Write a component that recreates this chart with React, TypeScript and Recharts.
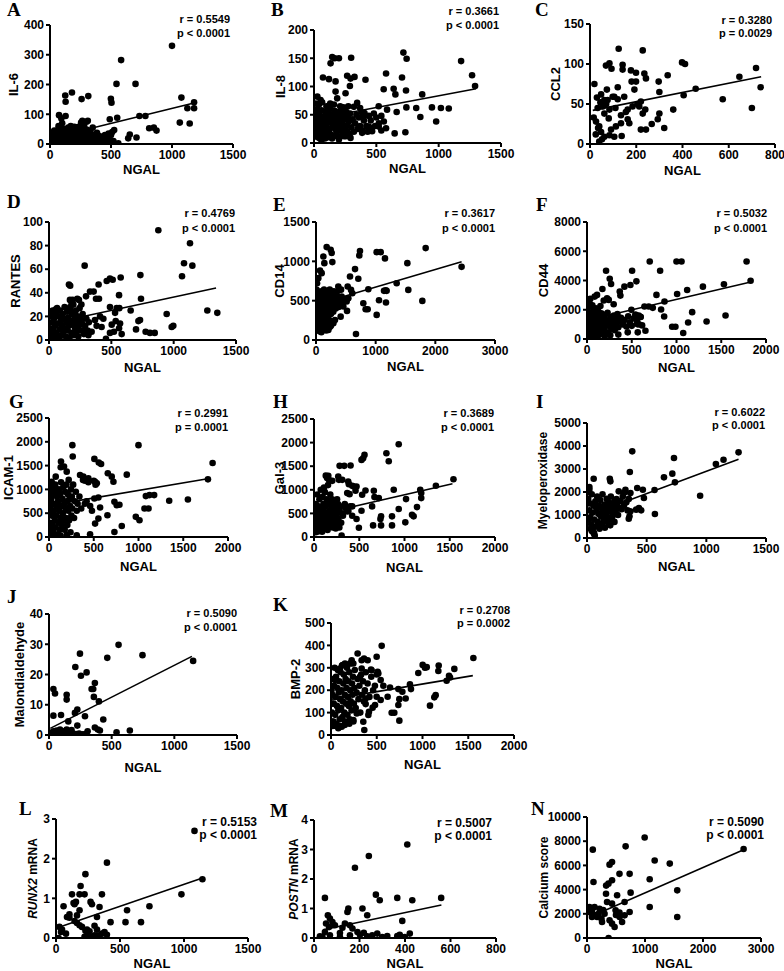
import React from 'react';
import { ScatterChart, Scatter, XAxis, YAxis, ReferenceLine } from 'recharts';

type Pt = [number, number];

// ---------- data (NGAL on x) ----------
const ptsA: Pt[] = [[1000,330],[583,282],[545,202],[701,202],[180,173],[125,163],[259,151],[314,161],[128,142],[499,152],[504,139],[1077,156],[1181,140],[1126,120],[1181,120],[1064,72],[1145,69],[551,88],[490,83],[733,94],[782,94],[813,53],[851,55],[873,45],[526,47],[641,19],[654,32],[709,22],[560,2],[74,97],[93,86],[128,94],
[10,5],[20,15],[30,40],[35,45],[40,10],[50,25],[55,5],[60,30],[70,60],[75,20],[80,8],[90,40],[95,15],[100,70],[105,35],[110,5],[120,25],[130,50],[140,10],[150,30],[160,20],[170,60],[180,5],[190,40],[200,15],[210,25],[220,55],[230,10],[240,35],[250,20],[260,5],[270,45],[280,60],[290,15],[300,75],[310,30],[320,10],[330,40],[340,20],[350,55],[360,5],[380,30],[400,15],[420,25],[440,8],[470,20],[480,35],[500,30],[520,10],[60,45],[85,3],[115,12],[145,40],[175,28],[205,8],[235,18],[265,28],[295,2],[325,22],[355,12],[385,38],[415,5],[255,72],[265,78],[310,78],[200,58],[235,58],[45,20],
[15,30],[25,8],[65,12],[88,22],[98,52],[118,38],[135,18],[155,8],[165,45],[185,18],[195,28],[215,38],[225,3],[245,8],[275,12],[285,32],[305,48],[335,5],[345,32],[365,25],[375,10],[395,28],[430,15],[450,30],[460,5],[490,12],[510,40],[130,30],[150,55],[160,3],[250,42],[220,22],[190,12],[110,22],[80,32],[70,2]];
const fitA: Pt[] = [[30,22],[1180,138]];

const ptsB: Pt[] = [[717,160],[743,149],[1180,145],[1268,120],[1292,101],[578,123],[706,116],[738,93],[639,96],[559,95],[653,86],[868,86],[1018,62],[1081,61],[946,63],[820,62],[663,55],[741,63],[853,46],[980,38],[647,17],[733,19],[578,26],[519,65],[586,59],[146,152],[200,150],[298,151],[166,150],[133,141],[72,116],[120,113],[173,109],[266,119],[293,114],[325,117],[413,112],[288,101],[173,91],[186,79],[253,88],[346,71],[27,82],[53,76],[405,53],[440,29],[466,21],[386,18],[519,29],[293,9],[240,12],
[10,55],[15,40],[20,25],[25,60],[30,35],[35,15],[40,50],[45,28],[50,42],[55,20],[60,58],[65,33],[70,12],[75,47],[80,25],[85,38],[90,55],[95,18],[100,30],[105,45],[110,10],[115,52],[120,22],[125,37],[130,60],[135,15],[140,43],[145,28],[150,50],[155,35],[160,12],[165,57],[170,25],[175,40],[180,18],[185,48],[190,32],[195,55],[200,22],[205,38],[210,12],[215,45],[220,28],[225,58],[230,35],[235,18],[240,50],[245,25],[250,42],[255,12],[260,55],[265,30],[270,20],[275,48],[280,38],[285,15],[290,52],[300,28],[310,42],[320,20],[330,35],[340,50],[350,25],[360,45],[370,30],[380,55],[390,22],[400,40],[420,30],[440,48],[460,25],[480,52],[500,45],[520,35],[540,48],[560,38],[15,70],[40,68],[65,72],[100,65],[130,70],[160,68],[210,65],[250,62],[30,10],[60,5],[5,30],[8,48],[12,18],[48,8],[88,8],[145,8],[200,6],[235,63],[275,65],[320,64],[370,62],[395,48],[430,20],[455,40],[490,30],[540,22]];
const fitB: Pt[] = [[0,42],[1300,96]];

const ptsC: Pt[] = [[124,119],[228,117],[398,102],[411,100],[718,95],[738,71],[646,84],[700,45],[574,56],[457,69],[405,61],[336,86],[297,78],[300,65],[360,43],[321,20],[300,38],[293,31],[267,25],[242,18],[220,18],[239,43],[228,38],[220,53],[213,47],[199,89],[199,78],[235,88],[242,82],[177,92],[180,78],[192,68],[141,99],[141,93],[84,101],[93,94],[69,98],[120,71],[105,59],[120,56],[148,59],[134,36],[163,43],[184,47],[163,31],[170,26],[19,75],[48,62],[62,55],[55,47],[76,55],[98,59],[33,45],[62,38],[84,43],[16,33],[26,28],[40,22],[48,15],[62,9],[40,3],[91,18],[105,9],[84,11],[137,10],[112,22],[134,26],[81,32],[73,68],[30,58],[45,52],[35,20],[52,6],[70,50],[110,45],[155,40],[205,50],[25,12]];
const fitC: Pt[] = [[12,42],[740,84]];

const ptsD: Pt[] = [[877,93],[1131,82],[1083,65],[1150,63],[1067,54],[1270,25],[1350,23],[944,22],[984,11],[997,12],[848,6],[810,6],[775,7],[733,55],[738,35],[730,17],[717,16],[698,9],[655,25],[575,53],[562,38],[511,51],[489,52],[463,50],[398,47],[286,63],[377,35],[401,35],[358,41],[329,41],[297,37],[227,35],[160,47],[168,34],[564,27],[543,27],[530,23],[489,28],[570,14],[562,10],[583,5],[535,16],[503,13],[521,7],[489,6],[457,1],[436,18],[409,20],[369,17],[382,12],[422,11],[342,7],[316,4],[289,9],[262,15],[222,17],[209,21],[168,25],
[5,2],[10,10],[15,20],[20,5],[25,15],[30,25],[35,8],[40,18],[45,3],[50,12],[55,22],[60,6],[65,27],[70,14],[75,2],[80,20],[85,9],[90,25],[95,16],[100,4],[105,12],[110,22],[115,7],[120,18],[125,28],[130,10],[135,3],[140,15],[145,24],[150,8],[155,19],[160,12],[165,2],[170,28],[175,16],[180,6],[185,22],[190,13],[195,30],[200,4],[205,18],[210,10],[215,25],[220,7],[225,15],[230,20],[235,3],[240,12],[245,27],[250,8],[255,18],[260,14],[270,22],[280,5],[290,12],[300,18],[310,8],[320,15],[170,46],[180,32],[190,34],[55,26],[15,24],[85,0.5],[260,30],[240,34]];
const fitD: Pt[] = [[10,14],[1340,44]];

const ptsE: Pt[] = [[2440,930],[1838,1168],[1531,977],[1547,637],[1782,497],[1352,722],[1168,633],[1140,625],[1184,625],[1173,476],[1056,506],[1017,319],[1156,1037],[1017,1117],[1084,1117],[877,646],[737,1130],[726,1075],[709,778],[654,901],[570,807],[793,467],[832,391],[866,391],[670,76],[413,297],[520,370],[514,489],[542,531],[587,637],[609,595],[531,680],[179,1181],[246,1147],[263,1105],[274,990],[123,1062],[140,977],[67,884],[95,850],[39,786],[374,680],[385,637],[430,552],[486,518],[458,425],[318,255],[291,212],[235,170],[207,127],[95,170],[67,127],[28,212],[11,637],
[10,200],[20,350],[25,500],[30,280],[40,420],[45,600],[50,160],[55,320],[60,480],[65,250],[70,560],[75,380],[80,200],[85,450],[90,620],[95,300],[100,520],[105,170],[110,400],[115,580],[120,260],[125,470],[130,340],[135,640],[140,210],[145,500],[150,380],[155,150],[160,560],[165,290],[170,430],[175,610],[180,230],[185,520],[190,360],[195,180],[200,470],[205,590],[210,310],[215,420],[220,540],[225,250],[230,640],[235,380],[240,480],[250,330],[260,580],[270,420],[280,520],[290,360],[300,620],[310,460],[320,540],[330,400],[340,600],[350,480],[360,560],[380,420],[400,510],[420,640],[440,460],[30,140],[60,110],[90,100],[130,130],[170,120],[210,150],[250,180],[5,430],[12,560],[18,720]];
const fitE: Pt[] = [[10,450],[2440,995]];

const ptsF: Pt[] = [[701,5302],[1000,5302],[1056,5302],[1783,5302],[1828,3988],[1530,3739],[1295,3580],[1119,3354],[1007,3082],[817,4668],[776,3014],[866,2561],[735,2130],[828,2017],[862,1541],[1175,1835],[1130,1133],[1336,1201],[1548,1609],[1075,408],[951,838],[988,838],[642,2221],[690,2221],[578,1609],[597,1518],[560,1020],[616,929],[653,566],[567,453],[455,453],[496,1994],[545,1654],[504,4668],[552,3943],[485,3694],[418,3580],[366,3240],[373,2968],[213,4668],[254,4124],[269,3762],[298,2379],[172,3422],[112,3014],[86,2900],[37,2742],[224,2787],[243,2674],[187,2629],[37,2221],[86,2039],
[10,300],[15,800],[20,1500],[25,500],[30,1100],[35,1800],[40,700],[45,300],[50,1300],[55,900],[60,1600],[65,400],[70,1000],[75,2000],[80,600],[85,1400],[90,250],[95,1150],[100,800],[105,1700],[110,450],[115,1250],[120,950],[125,1900],[130,350],[135,1050],[140,1550],[145,650],[150,1350],[155,850],[160,1750],[165,500],[170,1200],[175,300],[180,1450],[185,750],[190,1000],[195,1650],[200,550],[210,1300],[220,900],[230,1800],[240,400],[250,1100],[260,1500],[270,700],[280,1250],[290,950],[300,1600],[310,600],[320,1350],[330,1050],[340,1700],[350,800],[360,1200],[380,1450],[400,1000],[420,1300],[440,850],[460,1550],[480,1150],[500,900],[520,1400],[540,1650],[560,1250],[580,1000],[600,1500],[12,2200],[30,2400],[60,2300],[100,2100],[150,2250],[8,1900],[5,600],[18,150],[50,100],[120,150],[200,200],[260,250],[350,300]];
const fitF: Pt[] = [[15,1300],[1830,3900]];

const ptsG: Pt[] = [[261,1930],[265,1690],[1000,1930],[1828,1556],[1776,1211],[1552,789],[1343,761],[1123,880],[1175,880],[1082,859],[1112,599],[1067,599],[970,423],[1011,352],[813,232],[731,106],[869,1310],[701,1268],[720,1162],[657,1338],[556,1563],[582,1535],[507,1641],[515,1162],[534,1127],[507,810],[552,831],[571,620],[552,387],[515,282],[459,56],[653,458],[731,739],[757,669],[787,676],[310,35],[347,1303],[384,1268],[440,1232],[403,1183],[134,1584],[131,1465],[75,1268],[198,1373],[168,1479],[30,1162],[49,1056],[86,951],
[5,50],[10,300],[15,600],[20,150],[25,800],[30,450],[35,1000],[40,250],[45,700],[50,100],[55,550],[60,900],[65,350],[70,1100],[75,200],[80,650],[85,450],[90,850],[95,50],[100,750],[105,300],[110,1000],[115,550],[120,150],[125,900],[130,400],[135,1150],[140,650],[145,250],[150,800],[155,500],[160,1050],[165,350],[170,700],[175,150],[180,950],[185,600],[190,400],[195,1100],[200,750],[205,250],[210,900],[215,550],[220,1200],[225,350],[230,800],[235,650],[240,100],[245,1000],[250,450],[255,850],[260,600],[270,1100],[280,400],[290,750],[300,950],[310,550],[320,700],[340,850],[360,600],[380,1200],[400,700],[420,750],[440,1150],[460,650],[480,550],[500,1180],[520,1100],[8,1100],[12,850],[3,500],[18,950],[28,20],[60,30],[130,30],[200,40]];
const fitG: Pt[] = [[10,665],[1790,1230]];

const ptsH: Pt[] = [[936,1965],[800,1775],[558,1739],[525,1634],[543,1669],[826,1606],[1541,1225],[1347,1085],[1174,1000],[1185,930],[1185,824],[1138,634],[1083,472],[1101,437],[1009,310],[1017,803],[936,592],[881,1000],[862,437],[862,246],[741,437],[734,380],[741,246],[653,246],[642,648],[668,845],[716,824],[661,979],[569,986],[532,894],[525,556],[496,197],[470,380],[422,451],[422,648],[459,979],[470,1070],[305,30],[283,1507],[334,1507],[404,1514],[378,1176],[385,1120],[422,1085],[440,1070],[268,1282],[275,1211],[312,1211],[158,1296],[165,1211],[202,1190],[367,930],[393,908],[349,613],[367,542],
[10,200],[15,450],[20,700],[25,300],[30,550],[35,900],[40,150],[45,400],[50,650],[55,250],[60,800],[65,500],[70,350],[75,1000],[80,180],[85,600],[90,450],[95,850],[100,300],[105,700],[110,550],[115,200],[120,950],[125,400],[130,650],[135,280],[140,800],[145,500],[150,150],[155,1100],[160,380],[165,700],[170,550],[175,250],[180,900],[185,450],[190,650],[195,300],[200,800],[205,200],[210,600],[215,400],[220,750],[225,500],[230,300],[235,650],[240,180],[245,550],[250,450],[255,800],[260,250],[265,700],[270,380],[275,550],[280,200],[290,650],[300,300],[310,500],[320,450],[340,700],[360,600],[380,550],[400,650],[20,100],[50,120],[90,110],[130,1300],[145,1250],[40,600],[8,500],[12,350],[110,1050]];
const fitH: Pt[] = [[15,460],[1530,1130]];

const ptsI: Pt[] = [[1270,3724],[1144,3405],[1080,3217],[729,3478],[379,3768],[715,2797],[645,2637],[737,2420],[359,2869],[948,1840],[566,2087],[569,1043],[412,1232],[435,1304],[454,1203],[477,1739],[468,2101],[421,2173],[364,1956],[364,1159],[356,942],[350,840],[56,2579],[191,2579],[196,2463],[20,2217],[322,2101],[308,1956],[266,2029],[247,1695],[260,1594],[56,217],[42,507],
[10,1700],[15,2000],[20,1200],[25,900],[30,1500],[35,600],[40,1900],[45,1100],[50,300],[55,1400],[60,800],[65,100],[70,1600],[75,500],[80,1250],[85,1800],[90,700],[95,1050],[100,1400],[105,400],[110,1650],[115,950],[120,1300],[125,600],[130,1900],[135,1100],[140,800],[145,1450],[150,450],[155,1250],[160,1000],[165,1700],[170,700],[175,1350],[180,900],[185,1550],[190,1150],[195,550],[200,1800],[205,1250],[210,800],[215,1500],[220,1000],[225,1350],[230,700],[235,1650],[240,1150],[250,1450],[260,1000],[270,1300],[280,1600],[290,1250],[300,1800],[310,1400],[320,2000],[330,1550],[340,1200],[350,1700],[5,1500],[8,2200],[12,800],[20,2100],[40,300],[60,200],[30,400]];
const fitI: Pt[] = [[20,1000],[1270,3420]];

const ptsJ: Pt[] = [[1150,24.5],[746,26.4],[555,29.8],[465,25.5],[247,26.9],[210,22.5],[255,19.6],[300,20.7],[366,17.2],[353,15.2],[340,15.2],[358,12.6],[398,11.1],[35,15.2],[48,13.7],[141,13.3],[141,11.7],[35,6.4],[96,6.6],[287,6.2],[226,8.4],[207,7.3],[226,3.1],[154,4.5],[433,5.1],[366,2.5],[406,1.5],[308,1.2],[295,0.4],[539,0.9],[645,1.5],[8,0.7],[35,1.2],[61,1.5],[88,1.8],[114,1.2],[141,1.8],[167,1.2],[194,0.4],[74,0.4],[127,0.4],[20,0.2],[50,0.9],[100,0.6],[155,0.8],[180,1.6],[215,0.3],[240,0.5],[270,0.2],[390,1.8]];
const fitJ: Pt[] = [[10,2.2],[1140,26]];

const ptsK: Pt[] = [[1556,344],[1348,295],[1290,264],[1301,257],[1264,242],[1177,310],[1173,286],[1002,313],[1027,300],[1046,303],[954,277],[1144,178],[1129,168],[1082,131],[863,226],[874,205],[780,193],[816,163],[747,160],[736,205],[736,134],[747,64],[692,99],[663,99],[645,212],[619,171],[499,171],[543,156],[554,398],[499,349],[510,282],[517,275],[543,245],[572,220],[444,289],[481,134],[455,122],[415,104],[408,89],[379,163],[379,138],[353,59],[364,22],[291,364],[361,341],[335,334],[401,334],[437,292],[335,297],[317,260],[226,334],[244,319],[208,319],[153,319],[128,312],[98,297],[44,245],[281,96],[244,67],[189,59],[153,52],[117,37],[80,30],
[10,100],[15,180],[20,250],[25,60],[30,140],[35,220],[40,300],[45,90],[50,170],[55,260],[60,50],[65,130],[70,210],[75,290],[80,110],[85,190],[90,240],[95,70],[100,160],[105,280],[110,120],[115,200],[120,310],[125,80],[130,150],[135,230],[140,270],[145,100],[150,180],[155,60],[160,250],[165,140],[170,210],[175,300],[180,90],[185,170],[190,240],[195,130],[200,280],[205,70],[210,200],[215,150],[220,320],[225,110],[230,230],[235,180],[240,260],[245,60],[250,140],[255,210],[260,290],[270,120],[280,190],[290,250],[300,160],[310,220],[320,100],[330,270],[340,180],[350,240],[360,150],[370,200],[380,280],[400,230],[420,170],[440,260],[460,200],[480,220],[500,270],[5,200],[8,140],[12,60],[18,40],[50,40],[100,40],[150,45],[200,50]];
const fitK: Pt[] = [[10,160],[1550,265]];

const ptsL: Pt[] = [[1082,2.7],[1144,1.48],[980,1.1],[730,0.8],[664,0.4],[543,0.4],[555,0.7],[398,1.9],[426,0.4],[379,0.15],[398,0.08],[359,1.1],[340,0.78],[320,0.53],[301,0.31],[320,0.21],[340,0.07],[359,0.11],[230,1.61],[192,1.31],[223,1.1],[184,1.1],[125,1.1],[156,0.91],[137,0.88],[145,0.85],[270,0.91],[281,0.85],[59,0.8],[86,0.53],[105,0.6],[164,0.57],[184,0.7],[105,0.51],[145,0.43],[164,0.38],[184,0.32],[203,0.28],[230,0.18],[242,0.21],[262,0.17],[27,0.28],[47,0.21],[39,0.15],[78,0.11],[20,0],[242,0.05],[281,0.03],[301,0.07],[223,0.03]];
const fitL: Pt[] = [[40,0.29],[1150,1.52]];

const ptsM: Pt[] = [[410,3.17],[241,2.78],[180,2.38],[559,1.36],[432,1.28],[366,1.36],[272,1.47],[289,1.28],[48,1.36],[151,1.0],[147,0.88],[213,1.0],[234,0.77],[388,0.58],[61,0.77],[70,0.66],[81,0.54],[92,0.43],[53,0.49],[66,0.37],[48,0.2],[158,0.43],[169,0.32],[125,0.35],[136,0.49],[70,0.09],[114,0.03],[158,0.09],[202,0.11],[234,0.06],[256,0.09],[278,0.15],[300,0.03],[322,0.07],[114,0.17],[191,0.2],[366,0.07],[377,0.11],[399,0.03],[421,0.15],[37,0.03],[26,0.06],[219,0.18]];
const fitM: Pt[] = [[40,0.28],[560,1.12]];

const ptsN: Pt[] = [[2700,7350],[100,7300],[994,8300],[666,7576],[1167,6400],[1427,6150],[1081,4850],[389,6060],[432,6280],[560,5300],[735,5300],[330,4330],[370,4490],[112,4630],[432,4770],[519,3530],[328,3660],[752,3750],[648,2975],[1081,2560],[1556,3940],[1556,1740],[372,0],[130,2560],[216,2420],[86,2290],[173,1740],[259,1320],[389,1460],[562,1740],[605,1320],[346,2975],[432,2840],[493,2290],[86,1740],[43,2560],[432,1185],[476,910],[303,2010],[648,1870],[735,2150],[200,2000],[250,1600],[280,2300],[150,1900],[60,2100],[500,1900],[560,2100]];
const fitN: Pt[] = [[60,1750],[2700,7300]];

// ---------- ticks ----------
const xT1500 = [0, 500, 1000, 1500];
const xT800 = [0, 200, 400, 600, 800];
const xT3000 = [0, 1000, 2000, 3000];
const xT2000 = [0, 500, 1000, 1500, 2000];
const yTA = [0, 100, 200, 300, 400];
const yTB = [0, 50, 100, 150, 200];
const yTC = [0, 50, 100, 150];
const yTD = [0, 20, 40, 60, 80, 100];
const yTE = [0, 500, 1000, 1500];
const yTF = [0, 2000, 4000, 6000, 8000];
const yTG = [0, 500, 1000, 1500, 2000, 2500];
const yTI = [0, 1000, 2000, 3000, 4000, 5000];
const yTJ = [0, 10, 20, 30, 40];
const yTK = [0, 100, 200, 300, 400, 500];
const yTL = [0, 1, 2, 3];
const yTM = [0, 1, 2, 3, 4];
const yTN = [0, 2000, 4000, 6000, 8000, 10000];

const labelsY = ['IL-6', 'IL-8', 'CCL2', 'RANTES', 'CD14', 'CD44', 'ICAM-1', 'Gal-3', 'Myeloperoxidase', 'Malondialdehyde', 'BMP-2', 'RUNX2', 'POSTN', 'Calcium score'];
const rValues = ['0.5549', '0.3661', '0.3280', '0.4769', '0.3617', '0.5032', '0.2991', '0.3689', '0.6022', '0.5090', '0.2708', '0.5153', '0.5007', '0.5090'];
const pValues = ['< 0.0001', '< 0.0001', '= 0.0029', '< 0.0001', '< 0.0001', '< 0.0001', '= 0.0001', '< 0.0001', '< 0.0001', '< 0.0001', '= 0.0002', '< 0.0001', '< 0.0001', '< 0.0001'];
const letters = ['A', 'B', 'C', 'D', 'E', 'F', 'G', 'H', 'I', 'J', 'K', 'L', 'M', 'N'];

const seriesPts = [ptsA, ptsB, ptsC, ptsD, ptsE, ptsF, ptsG, ptsH, ptsI, ptsJ, ptsK, ptsL, ptsM, ptsN];
const seriesFit = [fitA, fitB, fitC, fitD, fitE, fitF, fitG, fitH, fitI, fitJ, fitK, fitL, fitM, fitN];
const seriesXT = [xT1500, xT1500, xT800, xT1500, xT3000, xT2000, xT2000, xT2000, xT1500, xT1500, xT2000, xT1500, xT800, xT3000];
const seriesYT = [yTA, yTB, yTC, yTD, yTE, yTF, yTG, yTG, yTI, yTJ, yTK, yTL, yTM, yTN];

// ---------- layout (page pixels) ----------
type Lay = { box: [number, number, number, number]; letter: [number, number]; rp: [number, number, number]; yl: number; xl: number; ylSize?: number };
const layout: Lay[] = [
  { box: [50, 25, 233, 144], letter: [7, 16], rp: [230, 19, 33], yl: 13, xl: 169 },
  { box: [314, 30, 501, 143], letter: [271, 16], rp: [499, 11, 25], yl: 280, xl: 168 },
  { box: [590, 24, 775, 144], letter: [535, 16], rp: [772, 20, 33], yl: 555, xl: 170 },
  { box: [49, 222, 236, 340], letter: [7, 208], rp: [235, 213, 228], yl: 15, xl: 367 },
  { box: [316, 222, 495, 340], letter: [273, 211], rp: [495, 213, 228], yl: 279, xl: 366 },
  { box: [587, 222, 766, 339], letter: [536, 211], rp: [767, 213, 228], yl: 543, xl: 367 },
  { box: [49, 418, 228, 537], letter: [9, 408], rp: [228, 413, 427], yl: 8, xl: 566 },
  { box: [314, 419, 495, 537], letter: [273, 408], rp: [494, 413, 427], yl: 279, xl: 567 },
  { box: [587, 423, 766, 538], letter: [536, 408], rp: [765, 412, 425], yl: 543, xl: 566, ylSize: 12 },
  { box: [49, 614, 237, 735], letter: [7, 603], rp: [237, 613, 627], yl: 19, xl: 767 },
  { box: [331, 623, 514, 735], letter: [273, 611], rp: [510, 610, 623], yl: 295, xl: 764 },
  { box: [56, 819, 248, 938], letter: [19, 815], rp: [257, 822, 835], yl: 33, xl: 963, ylSize: 12 },
  { box: [314, 820, 496, 938], letter: [270, 817], rp: [492, 823, 836], yl: 294, xl: 963, ylSize: 12 },
  { box: [587, 817, 761, 938], letter: [531, 815], rp: [764, 822, 835], yl: 544, xl: 963, ylSize: 12 },
];

const SANS = "'Liberation Sans', Arial, Helvetica, sans-serif";
const NARROW = "'Liberation Sans Narrow', 'Arial Narrow', 'Liberation Sans', Arial, sans-serif";
const SERIF = "'Liberation Serif', 'Times New Roman', serif";

const Dot = (props: any) => <circle cx={props.cx} cy={props.cy} r={3.3} fill="#000" />;

function Panel({ idx }: { idx: number }) {
  const lay = layout[idx];
  const [l, t, r, b] = lay.box;
  const YW = 50, MT = 12, MR = 18, XH = 30;
  const width = YW + (r - l) + MR;
  const height = MT + (b - t) + XH;
  const data = seriesPts[idx].map(([x, y]) => ({ x, y }));
  const xt = seriesXT[idx];
  const yt = seriesYT[idx];
  const fit = seriesFit[idx];
  const narrow = idx >= 11;
  const tickStyle = { fill: '#000', fontSize: 12, fontWeight: 700, fontFamily: narrow ? NARROW : SANS };
  const axisStyle = { stroke: '#000', strokeWidth: 2 };
  return (
    <div style={{ position: 'absolute', left: l - YW, top: t - MT }}>
      <ScatterChart width={width} height={height} margin={{ top: MT, right: MR, bottom: 0, left: 0 }}>
        <XAxis type="number" dataKey="x" domain={[0, xt[xt.length - 1]]} ticks={xt} interval={0} allowDataOverflow
          height={XH} tickSize={4} tickMargin={2} axisLine={axisStyle} tickLine={axisStyle} tick={tickStyle} />
        <YAxis type="number" dataKey="y" domain={[0, yt[yt.length - 1]]} ticks={yt} interval={0} allowDataOverflow
          width={YW} tickSize={4} tickMargin={2} axisLine={axisStyle} tickLine={axisStyle} tick={tickStyle} />
        <Scatter data={data} fill="#000" shape={Dot} isAnimationActive={false} />
        <ReferenceLine segment={[{ x: fit[0][0], y: fit[0][1] }, { x: fit[1][0], y: fit[1][1] }]} stroke="#000" strokeWidth={1.6} ifOverflow="extendDomain" />
      </ScatterChart>
    </div>
  );
}

function YLabel({ idx }: { idx: number }) {
  const lab = labelsY[idx];
  if (idx === 11 || idx === 12) {
    return (<><tspan fontStyle="italic">{lab}</tspan><tspan> mRNA</tspan></>);
  }
  return <>{lab}</>;
}

export default function App() {
  return (
    <div style={{ position: 'absolute', left: 0, top: 0, width: 784, height: 971, background: '#fff', overflow: 'hidden' }}>
      {layout.map((_, i) => <Panel key={i} idx={i} />)}
      <svg width={784} height={971} style={{ position: 'absolute', left: 0, top: 0, pointerEvents: 'none' }}>
        {layout.map((lay, i) => {
          const [l, t, r, b] = lay.box;
          const narrow = i >= 11;
          const fam = narrow ? NARROW : SANS;
          return (
            <g key={i}>
              <text x={lay.letter[0]} y={lay.letter[1]} fontFamily={SERIF} fontWeight={700} fontSize={19} fill="#000">{letters[i]}</text>
              <text x={lay.rp[0]} y={lay.rp[1]} textAnchor="end" dominantBaseline="central" fontFamily={fam} fontWeight={700} fontSize={narrow ? 12 : 11} fill="#000">{'r = ' + rValues[i]}</text>
              <text x={lay.rp[0]} y={lay.rp[2]} textAnchor="end" dominantBaseline="central" fontFamily={fam} fontWeight={700} fontSize={narrow ? 12 : 11} fill="#000">{'p ' + pValues[i]}</text>
              <text transform={`translate(${lay.yl},${(t + b) / 2}) rotate(-90)`} textAnchor="middle" dominantBaseline="central" fontFamily={SANS} fontWeight={700} fontSize={lay.ylSize || 13} fill="#000"><YLabel idx={i} /></text>
              <text x={(l + r) / 2} y={lay.xl} textAnchor="middle" dominantBaseline="central" fontFamily={SANS} fontWeight={700} fontSize={13} fill="#000">NGAL</text>
            </g>
          );
        })}
      </svg>
    </div>
  );
}
